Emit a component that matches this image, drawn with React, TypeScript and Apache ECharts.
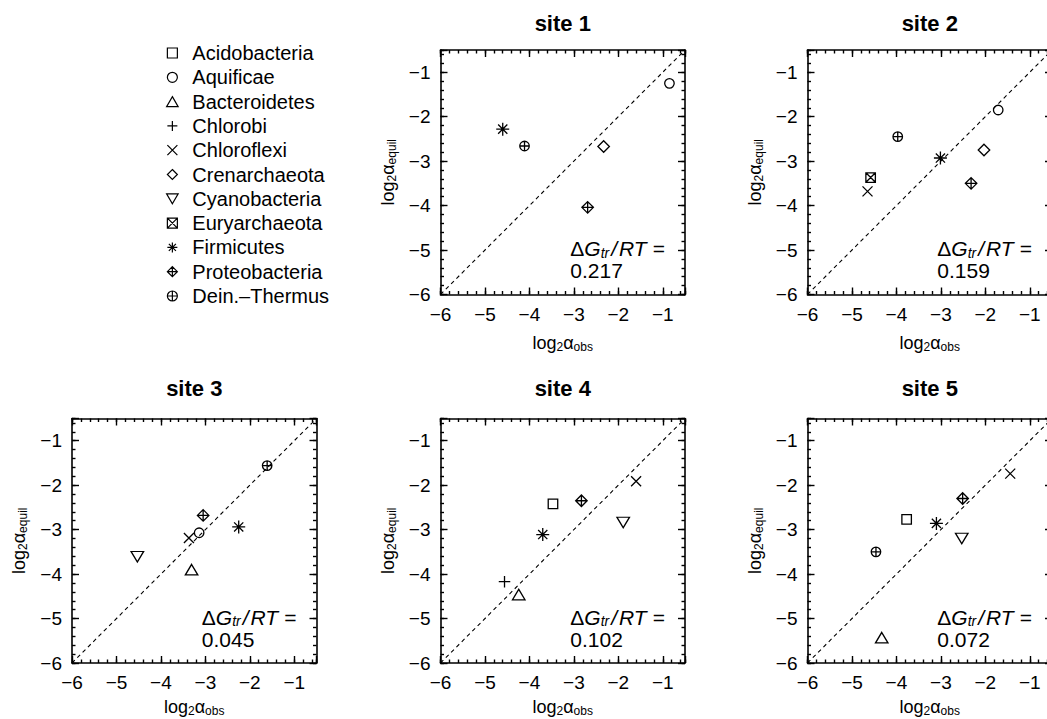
import React, { useEffect, useRef } from "react";
import * as echarts from "echarts";

// ---------------- data ----------------
const phyla = [
  "Acidobacteria",
  "Aquificae",
  "Bacteroidetes",
  "Chlorobi",
  "Chloroflexi",
  "Crenarchaeota",
  "Cyanobacteria",
  "Euryarchaeota",
  "Firmicutes",
  "Proteobacteria",
  "Dein.\u2013Thermus",
];

const siteTitles = ["site 1", "site 2", "site 3", "site 4", "site 5"];
const dGtrRT = ["0.217", "0.159", "0.045", "0.102", "0.072"];

// values per phylum (same order as phyla); null = not present at site
const site1Obs = [null, -0.85, null, null, null, -2.33, null, null, -4.6, -2.69, -4.11];
const site1Equil = [null, -1.25, null, null, null, -2.67, null, null, -2.28, -4.04, -2.66];

const site2Obs = [null, -1.71, null, null, -4.65, -2.03, null, -4.58, -3.01, -2.32, -3.97];
const site2Equil = [null, -1.85, null, null, -3.68, -2.75, null, -3.37, -2.93, -3.5, -2.45];

const site3Obs = [null, -3.14, -3.31, null, -3.37, null, -4.53, null, -2.25, -3.05, -1.61];
const site3Equil = [null, -3.07, -3.9, null, -3.19, null, -3.61, null, -2.94, -2.68, -1.56];

const site4Obs = [-3.47, null, -4.24, -4.56, -1.6, null, -1.89, null, -3.7, -2.83, null];
const site4Equil = [-2.42, null, -4.46, -4.17, -1.91, null, -2.84, null, -3.11, -2.35, null];

const site5Obs = [-3.77, null, -4.33, null, -1.44, null, -2.53, null, -3.1, -2.51, -4.46];
const site5Equil = [-2.77, null, -5.43, null, -1.74, null, -3.2, null, -2.86, -2.3, -3.5];

const axisRange = [-6, -0.5];
const majorInterval = 1;
const minorInterval = 0.2;
const diagonal = [-6, -0.5];
const annotationAt = [-3.08, -5.22];

// ---------------- styling ----------------
const FONT = "'Liberation Sans', Arial, Helvetica, sans-serif";

const symbolPaths = [
  "path://M-1,-1L1,-1L1,1L-1,1Z",
  "path://M-1,0A1,1,0,1,0,1,0A1,1,0,1,0,-1,0Z",
  "path://M0,-1L0.866,0.5L-0.866,0.5Z",
  "path://M0,-1L0,1M-1,0L1,0",
  "path://M-1,-1L1,1M-1,1L1,-1",
  "path://M0,-1L1,0L0,1L-1,0Z",
  "path://M0,1L0.866,-0.5L-0.866,-0.5Z",
  "path://M-1,-1L1,-1L1,1L-1,1ZM-1,-1L1,1M-1,1L1,-1",
  "path://M0,-1L0,1M-1,0L1,0M-0.707,-0.707L0.707,0.707M-0.707,0.707L0.707,-0.707",
  "path://M0,-1L1,0L0,1L-1,0ZM0,-1L0,1M-1,0L1,0",
  "path://M-1,0A1,1,0,1,0,1,0A1,1,0,1,0,-1,0ZM0,-1L0,1M-1,0L1,0",
];
const symbolSizes: any[] = [
  9.5, 9.5, [12.5, 10.5], 11.5, 10, 11.5, [12.5, 10.5], 9.5, 13, 11.5, 9.5,
];

const gridLefts = [440.5, 807.5, 72, 440.5, 807.5];
const gridTops = [50, 50, 418.5, 418.5, 418.5];
const FRAME = 244.5;

const siteObs = [site1Obs, site2Obs, site3Obs, site4Obs, site5Obs];
const siteEquil = [site1Equil, site2Equil, site3Equil, site4Equil, site5Equil];

const minus = (v: number) => (v < 0 ? "\u2212" + Math.abs(v) : String(v));
const tickFmt = (v: number) =>
  Math.abs(v - Math.round(v)) < 1e-6 ? minus(Math.round(v)) : "";

function buildOption() {
  const grids: any[] = [];
  const xAxes: any[] = [];
  const yAxes: any[] = [];
  const series: any[] = [];
  const titles: any[] = [];

  const sub = { fontSize: 12, fontFamily: FONT, color: "#000", verticalAlign: "bottom", lineHeight: 12 };
  const main = { fontSize: 18, fontFamily: FONT, color: "#000", lineHeight: 20 };

  for (let g = 0; g < 5; g++) {
    const bottomRow = g >= 2;
    grids.push({
      left: gridLefts[g],
      top: gridTops[g],
      width: FRAME,
      height: FRAME,
      containLabel: false,
      outerBoundsMode: "none",
    });
    titles.push({
      text: siteTitles[g],
      left: gridLefts[g] + FRAME / 2,
      top: gridTops[g] - (bottomRow ? 41 : 38),
      textAlign: "center",
      padding: 0,
      textStyle: { fontSize: 22, fontWeight: "bold", fontFamily: FONT, color: "#000" },
    });

    // major axes draw the frame, ticks (length 7) and labels;
    // overlaid minor axes draw only the short inward ticks every 0.2
    const base = (pos: string, withLabel: boolean, major: boolean) => ({
      type: "value",
      gridIndex: g,
      position: pos,
      min: axisRange[0],
      max: axisRange[1],
      interval: major ? majorInterval : minorInterval,
      splitLine: { show: false },
      axisLine: { show: major, onZero: false, lineStyle: { color: "#000", width: 1.6 } },
      axisTick: {
        show: true,
        inside: true,
        length: major ? 7 : 3.5,
        lineStyle: { color: "#000", width: 1.4 },
      },
      axisLabel: withLabel
        ? {
            show: true,
            formatter: tickFmt,
            fontSize: 19,
            fontFamily: FONT,
            color: "#000",
            margin: 10,
            showMinLabel: true,
            showMaxLabel: true,
          }
        : { show: false },
    });

    xAxes.push({
      ...base("bottom", true, true),
      name: "log{s|2}\u03b1{s|obs}",
      nameLocation: "middle",
      nameGap: bottomRow ? 34 : 38,
      nameTextStyle: { ...main, rich: { s: sub } },
    });
    xAxes.push(base("top", false, true));
    xAxes.push(base("bottom", false, false));
    xAxes.push(base("top", false, false));

    yAxes.push({
      ...base("left", true, true),
      name: "log{s|2}\u03b1{s|equil}",
      nameLocation: "middle",
      nameGap: 43,
      nameTextStyle: { ...main, rich: { s: sub } },
    });
    yAxes.push(base("right", false, true));
    yAxes.push(base("left", false, false));
    yAxes.push(base("right", false, false));

    const xi = 4 * g;
    const yi = 4 * g;

    series.push({
      type: "line",
      xAxisIndex: xi,
      yAxisIndex: yi,
      data: [
        [diagonal[0], diagonal[0]],
        [diagonal[1], diagonal[1]],
      ],
      symbol: "none",
      silent: true,
      lineStyle: { color: "#000", width: 1.1, type: [4, 3.5] },
      z: 1,
    });

    for (let p = 0; p < phyla.length; p++) {
      const xv = siteObs[g][p];
      const yv = siteEquil[g][p];
      if (xv === null || yv === null) continue;
      series.push({
        type: "scatter",
        name: phyla[p],
        xAxisIndex: xi,
        yAxisIndex: yi,
        data: [[xv, yv]],
        symbol: symbolPaths[p],
        symbolSize: symbolSizes[p],
        symbolKeepAspect: false,
        silent: true,
        itemStyle: { color: "rgba(0,0,0,0)", borderColor: "#000", borderWidth: 1.3, opacity: 1 },
        z: 3,
      });
    }

    const tok = { fontSize: 21, fontFamily: FONT, color: "#000", lineHeight: 22 };
    series.push({
      type: "scatter",
      xAxisIndex: xi,
      yAxisIndex: yi,
      data: [annotationAt],
      symbolSize: 0,
      silent: true,
      itemStyle: { color: "#000", opacity: 1 },
      label: {
        show: true,
        position: "right",
        distance: 0,
        align: "left",
        verticalAlign: "middle",
        color: "#000",
        opacity: 1,
        formatter:
          "{d|\u0394}{g|G}{s|tr}{sl|/}{g|RT}{eq|=}\n{d|" + dGtrRT[g] + "}",
        rich: {
          d: tok,
          g: { ...tok, fontStyle: "italic" },
          sl: { ...tok, fontStyle: "italic", padding: [0, 2, 0, 1] },
          eq: { ...tok, padding: [0, 0, 0, 6] },
          s: {
            fontSize: 14,
            fontFamily: FONT,
            fontStyle: "italic",
            color: "#000",
            verticalAlign: "bottom",
            lineHeight: 14,
            padding: [0, 1, 0, 0],
          },
        },
      },
      z: 2,
    });
  }

  return {
    animation: false,
    backgroundColor: "#fff",
    title: titles,
    grid: grids,
    xAxis: xAxes,
    yAxis: yAxes,
    legend: {
      show: true,
      orient: "vertical",
      left: 166,
      top: 43,
      padding: 0,
      itemWidth: 30,
      itemHeight: 10,
      itemGap: 4.3,
      selectedMode: false,
      textStyle: { fontSize: 20, fontFamily: FONT, color: "#000", lineHeight: 20 },
      itemStyle: { color: "rgba(0,0,0,0)", borderColor: "#000", borderWidth: 1.2, opacity: 1 },
      data: phyla.map((name, i) => ({ name, icon: symbolPaths[i] })),
    },
    series,
  };
}

export default function App() {
  const ref = useRef<HTMLDivElement>(null);
  useEffect(() => {
    if (!ref.current) return;
    const chart = echarts.init(ref.current, null, { renderer: "svg" });
    chart.setOption(buildOption() as any);
    return () => chart.dispose();
  }, []);
  return (
    <div
      ref={ref}
      style={{ position: "absolute", left: 0, top: 0, width: 1047, height: 719, background: "#fff" }}
    />
  );
}
